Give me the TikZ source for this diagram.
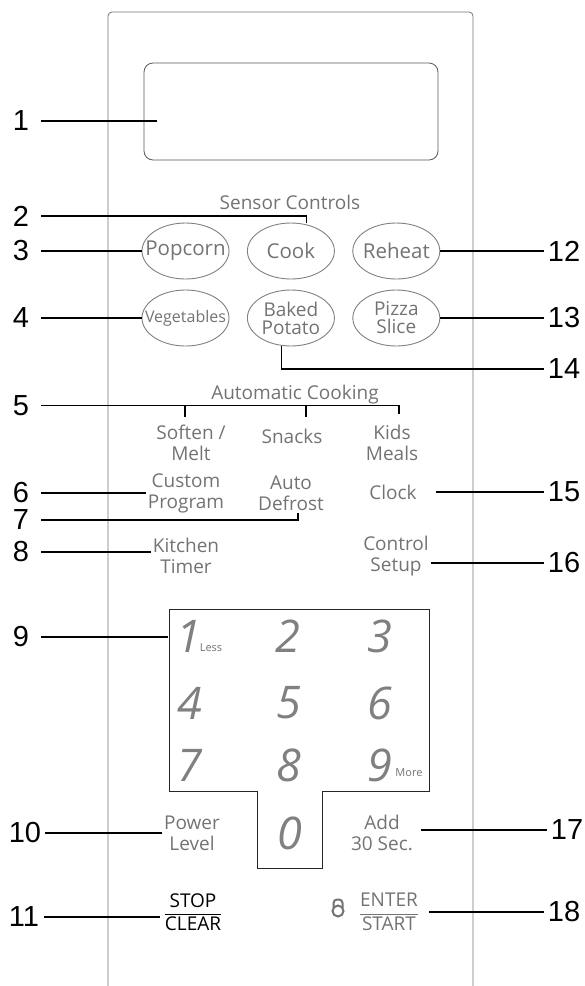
\documentclass[tikz,border=0pt]{standalone}
\usepackage{fontspec}
\setmainfont{Open Sans}
\newfontfamily\calloutfont{Liberation Sans}
\usetikzlibrary{positioning,chains,shapes.geometric}
\tikzstyle{panel}=[draw=black!55,line width=0.8pt]
\tikzstyle{key}=[ellipse,draw=black!50,line width=0.9pt,minimum width=87pt,minimum height=56pt,inner sep=0pt]
\tikzstyle{keytext}=[text=black!55,font=\fontsize{19}{21}\selectfont,align=center,inner sep=2pt]
\tikzstyle{callnum}=[font=\calloutfont\fontsize{29}{29}\selectfont,minimum width=40pt,inner sep=0pt]
\tikzstyle{callout}=[draw=black,line width=1.6pt]
\tikzstyle{digit}=[text=black!50,font=\fontsize{45}{45}\selectfont\itshape]

\begin{document}
\begin{tikzpicture}[x=1pt,y=-1pt]
\useasboundingbox (0,0) rectangle (585,986);
% front panel and display
\draw[panel,rounded corners=4pt] (108,986) -- (108,12) -- (473,12) -- (473,986);
\node[panel,draw=black!65,rounded corners=9pt,minimum width=294pt,minimum height=97pt] (display) at (291,111.5) {};

% sensor keys
\node[keytext] (sensor) at (290,202) {Sensor Controls};
\begin{scope}[start chain=1 going right, node distance=17.5pt]
\node [on chain=1,key,label={[keytext,font=\fontsize{20.5}{21}\selectfont]center:Popcorn}] (popcorn) at (185.5,251) {};
\node [on chain=1,key,label={[keytext,font=\fontsize{20.5}{21}\selectfont]center:Cook}] (cook) {};
\node [on chain=1,key,label={[keytext,font=\fontsize{20.5}{21}\selectfont]center:Reheat}] (reheat) {};
\end{scope}
\begin{scope}[start chain=2 going right, node distance=17.5pt]
\node [on chain=2,key,label={[keytext,font=\fontsize{16}{16}\selectfont]center:Vegetables}] (vegetables) at (185.5,318) {};
\node [on chain=2,key,label={[keytext,font=\fontsize{19}{18}\selectfont]center:Baked\\Potato}] (potato) {};
\node [on chain=2,key,label={[keytext,font=\fontsize{19}{18}\selectfont]center:Pizza\\Slice}] (pizza) {};
\end{scope}

% automatic cooking and other keys
\node[keytext] (auto) at (295,395) {Automatic Cooking};
\node[keytext] (soften) at (191,443) {Soften /\\Melt};
\node[keytext] (snacks) at (292,436) {Snacks};
\node[keytext] (kids) at (392,443) {Kids\\Meals};
\node[keytext] (custom) at (186,493) {Custom\\Program};
\node[keytext] (defrost) at (291,493) {Auto\\Defrost};
\node[keytext] (clock) at (393,492) {Clock};
\node[keytext] (kitchen) at (186,556) {Kitchen\\Timer};
\node[keytext] (setup) at (396,556) {Control\\Setup};

% number pad
\coordinate (kp) at (169,609);
\draw[draw=black!85,line width=1pt] (kp) -- (429,609) -- (429,791) -- (322,791) -- (322,868) -- (257,868) -- (257,791) -- (169,791) -- cycle;
\foreach \d/\x/\y in {1/189/636,2/288/636,3/380/636,4/190/703,5/289/703,6/380/703,7/190/765,8/289/765,9/380/765,0/290/833}
  \node[digit] (d\d) at (\x,\y) {\d};
\node[keytext,font=\fontsize{11}{11}\selectfont] (less) at (211,648) {Less};
\node[keytext,font=\fontsize{11}{11}\selectfont] (more) at (409,773) {More};

\node[keytext] (power) at (192,833) {Power\\Level};
\node[keytext] (add) at (382,833) {Add\\30 Sec.};
\node[font=\fontsize{19}{19}\selectfont] (stop) at (193,912) {$\displaystyle{\mbox{STOP}\over\mbox{CLEAR}}$};
\node[text=black!55,font=\fontsize{19}{19}\selectfont] (enter) at (389,912) {$\displaystyle{\mbox{ENTER}\over\mbox{START}}$};
\draw[draw=black!55,line width=2pt] (338,911) circle (5.5pt);
\draw[draw=black!55,line width=2pt,rounded corners=3.5pt] (333.5,908) -- (333.5,899.5) -- (342.5,899.5) -- (342.5,908);

% callout numbers, left
\node[callnum] (n1) at (21,121) {1};
\node[callnum] (n2) at (21,216) {2};
\node[callnum] (n3) at (21,251) {3};
\node[callnum] (n4) at (21,318) {4};
\node[callnum] (n5) at (21,405.5) {5};
\node[callnum] (n6) at (21,493) {6};
\node[callnum] (n7) at (21,520) {7};
\node[callnum] (n8) at (21,552) {8};
\node[callnum] (n9) at (21,637) {9};
\node[callnum] (n10) at (25,833) {10};
\node[callnum] (n11) at (24,917) {11};
% callout numbers, right
\node[callnum] (n12) at (564,251) {12};
\node[callnum] (n13) at (564,318) {13};
\node[callnum] (n14) at (564,369) {14};
\node[callnum] (n15) at (564,492) {15};
\node[callnum] (n16) at (564,563) {16};
\node[callnum] (n17) at (567,830) {17};
\node[callnum] (n18) at (564,912) {18};

% callout lines
\coordinate (tsoft) at (185,417);
\coordinate (tsnack) at (306,417);
\coordinate (tkids) at (399,414);
\draw[callout] (n1.east) -- ([xshift=13pt]n1 -| display.west);
\draw[callout] (n2.east) -| ([xshift=15.5pt]cook.north);
\draw[callout] (n3.east) -- (n3 -| popcorn.west);
\draw[callout] (n4.east) -- (n4 -| vegetables.west);
\draw[callout] (n5.east) -- (n5 -| tkids) -- (tkids);
\draw[callout] (n5 -| tsoft) -- (tsoft);
\draw[callout] (n5 -| tsnack) -- (tsnack);
\draw[callout] (n6.east) -- (n6 -| custom.west);
\draw[callout] (n7.east) -| ([xshift=7pt]defrost.south);
\draw[callout] (n8.east) -- (n8 -| kitchen.west);
\draw[callout] (n9.east) -- ([xshift=-1pt]n9 -| kp);
\draw[callout] (n10.east) -- (n10 -| power.west);
\draw[callout] (n11.east) -- (n11 -| stop.west);
\draw[callout] (n12.west) -- (n12 -| reheat.east);
\draw[callout] (n13.west) -- (n13 -| pizza.east);
\draw[callout] (n14.west) -| ([xshift=-9.5pt]potato.south);
\draw[callout] (n15.west) -- ([xshift=17pt]n15 -| clock.east);
\draw[callout] (n16.west) -- (n16 -| setup.east);
\draw[callout] (n17.west) -- ([xshift=6pt]n17 -| add.east);
\draw[callout] (n18.west) -- ([xshift=6pt]n18 -| enter.east);
\end{tikzpicture}
\end{document}
